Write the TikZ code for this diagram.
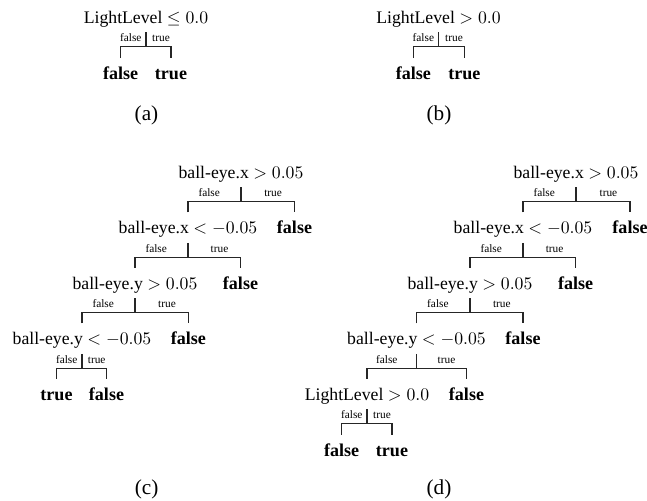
\documentclass[tikz,border=0pt]{standalone}
\usepackage[no-math]{fontspec}
\setmainfont{Liberation Serif}[BoldFont={Liberation Serif Bold}]
\usetikzlibrary{calc}
\newcommand\splitdraw[3]{%
  \draw[conn] ($(#1.base)+(0,9)$) -- ($(#1.base)+(0,23.5)$);
  \draw[conn] ($(#2.base)+(0,-21.5)$) |- ($(#1.base)+(0,23.5)$) -| ($(#3.base)+(0,-21.5)$);
  \node[edgelab] at ($(#1.base)!0.6!(#1.base -| #2.base)+(0,18.5)$) {false};
  \node[edgelab] at ($(#1.base)!0.6!(#1.base -| #3.base)+(0,18.5)$) {true};
}
\begin{document}
\begin{tikzpicture}[x=0.565pt,y=-0.565pt,
  cond/.style={anchor=base, inner sep=0pt, font=\fontsize{10}{12}\selectfont},
  leaf/.style={anchor=base, inner sep=0pt, font=\fontsize{10.2}{12}\selectfont\bfseries},
  edgelab/.style={anchor=base, inner sep=0pt, font=\fontsize{6.4}{7}\selectfont},
  captxt/.style={anchor=base, inner sep=0pt, font=\fontsize{12}{14}\selectfont},
  conn/.style={line width=0.65pt, black!85}]
\useasboundingbox (0,0) rectangle (647,500);
% (a)
\node[cond] (a0) at (146,23.3) {LightLevel $\leq 0.0$};
\node[leaf] (a1) at (120.7,79.5) {false};
\node[leaf] (a2) at (171,79.5) {true};
\splitdraw{a0}{a1}{a2}
\node[captxt] (acap) at (146.5,120) {(a)};
% (b)
\node[cond] (b0) at (438.5,23.3) {LightLevel $> 0.0$};
\node[leaf] (b1) at (413.3,79.5) {false};
\node[leaf] (b2) at (464.3,79.5) {true};
\splitdraw{b0}{b1}{b2}
\node[captxt] (bcap) at (439,120) {(b)};
% (c)
\node[cond] (c1) at (241,178.3) {ball-eye.x $> 0.05$};
\node[cond] (c2) at (188,233.8) {ball-eye.x $< -0.05$};
\node[leaf] (c2f) at (294.5,233.8) {false};
\node[cond] (c3) at (135,289.3) {ball-eye.y $> 0.05$};
\node[leaf] (c3f) at (240.5,289.3) {false};
\node[cond] (c4) at (82,344.8) {ball-eye.y $< -0.05$};
\node[leaf] (c4f) at (188.3,344.8) {false};
\node[leaf] (c5) at (56.5,400.3) {true};
\node[leaf] (c6) at (106.5,400.3) {false};
\splitdraw{c1}{c2}{c2f}
\splitdraw{c2}{c3}{c3f}
\splitdraw{c3}{c4}{c4f}
\splitdraw{c4}{c5}{c6}
\node[captxt] (ccap) at (146.7,494) {(c)};
% (d)
\node[cond] (d1) at (576,178.3) {ball-eye.x $> 0.05$};
\node[cond] (d2) at (523,233.8) {ball-eye.x $< -0.05$};
\node[leaf] (d2f) at (630,233.8) {false};
\node[cond] (d3) at (470,289.3) {ball-eye.y $> 0.05$};
\node[leaf] (d3f) at (575.6,289.3) {false};
\node[cond] (d4) at (416.5,344.8) {ball-eye.y $< -0.05$};
\node[leaf] (d4f) at (523,344.8) {false};
\node[cond] (d5) at (367,400.3) {LightLevel $> 0.0$};
\node[leaf] (d5f) at (466.5,400.3) {false};
\node[leaf] (d6) at (341.7,456) {false};
\node[leaf] (d7) at (392,456) {true};
\splitdraw{d1}{d2}{d2f}
\splitdraw{d2}{d3}{d3f}
\splitdraw{d3}{d4}{d4f}
\splitdraw{d4}{d5}{d5f}
\splitdraw{d5}{d6}{d7}
\node[captxt] (dcap) at (439,494) {(d)};
\end{tikzpicture}
\end{document}
